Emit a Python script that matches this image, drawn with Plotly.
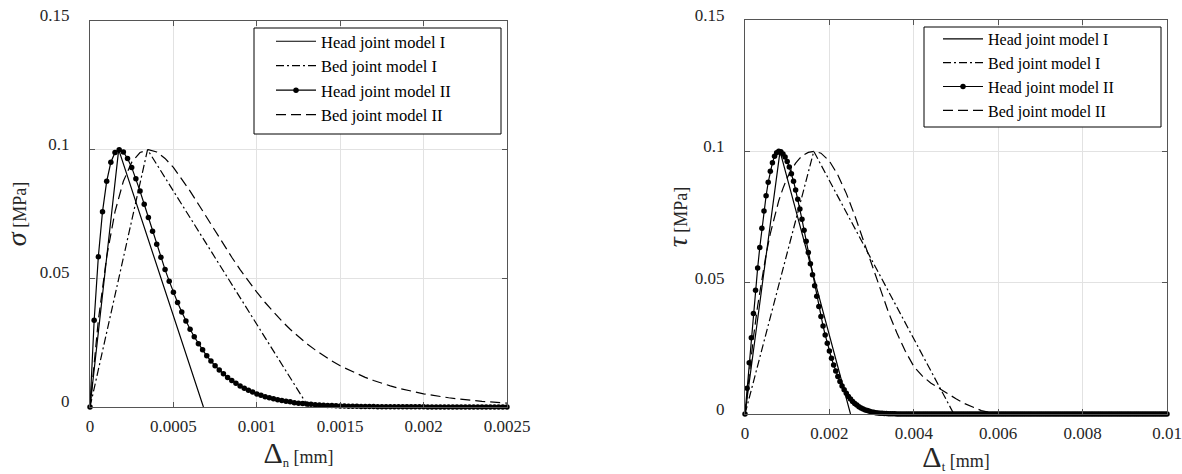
import plotly.graph_objects as go

FONT = "Liberation Serif"
TXT = "#262626"

# ---------------- data: normal direction (left panel) ----------------
# opening in 1e-6 mm
n_head_II_x = [0, 25, 50, 75, 100, 125, 150, 175, 200, 225,
               250, 275, 300, 325, 350, 375, 400, 425, 450, 475,
               500, 525, 550, 575, 600, 625, 650, 675, 700, 725,
               750, 775, 800, 825, 850, 875, 900, 925, 950, 975,
               1000, 1025, 1050, 1075, 1100, 1125, 1150, 1175, 1200, 1225,
               1250, 1275, 1300, 1325, 1350, 1375, 1400, 1425, 1450, 1475,
               1500, 1525, 1550, 1575, 1600, 1625, 1650, 1675, 1700, 1725,
               1750, 1775, 1800, 1825, 1850, 1875, 1900, 1925, 1950, 1975,
               2000, 2025, 2050, 2075, 2100, 2125, 2150, 2175, 2200, 2225,
               2250, 2275, 2300, 2325, 2350, 2375, 2400, 2425, 2450, 2475,
               2500]
n_head_II_y = [0, 0.0337, 0.0584, 0.0759, 0.0877, 0.0951, 0.0989, 0.1, 0.0991, 0.0966,
               0.0931, 0.0887, 0.0839, 0.0788, 0.0736, 0.0683, 0.0632, 0.0582, 0.0534, 0.0489,
               0.0446, 0.0406, 0.0369, 0.0334, 0.0302, 0.0273, 0.0246, 0.0222, 0.0199, 0.0179,
               0.0160, 0.0144, 0.0129, 0.0115, 0.0103, 0.0092, 0.0082, 0.0073, 0.0065, 0.0058,
               0.0051, 0.0046, 0.0040, 0.0036, 0.0032, 0.0028, 0.0025, 0.0022, 0.0020, 0.0017,
               0.0015, 0.0014, 0.0012, 0.0011, 0.0009, 0.0008, 0.0007, 0.0006, 0.0006, 0.0005,
               0.0004, 0.0004, 0.0003, 0.0003, 0.0003, 0.0002, 0.0002, 0.0002, 0.0002, 0.0001,
               0.0001, 0.0001, 0.0001, 0.0001, 0.0001, 0.0001, 0.0001, 0.0001, 0.0001, 0.0001,
               0.0001, 0, 0, 0, 0, 0, 0, 0, 0, 0,
               0, 0, 0, 0, 0, 0, 0, 0, 0, 0,
               0]
n_head_I_x = [0, 172, 680]
n_head_I_y = [0, 0.1, 0]
n_bed_I_x = [0, 345, 1310]
n_bed_I_y = [0, 0.1, 0]
n_bed_II_x = [0, 50, 100, 150, 200, 250, 300, 350, 400, 450,
              500, 550, 600, 650, 700, 750, 800, 850, 900, 950,
              1000, 1050, 1100, 1150, 1200, 1250, 1300, 1350, 1400, 1450,
              1500, 1550, 1600, 1650, 1700, 1750, 1800, 1850, 1900, 1950,
              2000, 2050, 2100, 2150, 2200, 2250, 2300, 2350, 2400, 2450,
              2500]
n_bed_II_y = [0, 0.0337, 0.0584, 0.0759, 0.0877, 0.0951, 0.0989, 0.1, 0.0991, 0.0966,
              0.0931, 0.0887, 0.0839, 0.0788, 0.0736, 0.0683, 0.0632, 0.0582, 0.0534, 0.0489,
              0.0446, 0.0406, 0.0369, 0.0334, 0.0302, 0.0273, 0.0246, 0.0222, 0.0199, 0.0179,
              0.0160, 0.0144, 0.0129, 0.0115, 0.0103, 0.0092, 0.0082, 0.0073, 0.0065, 0.0058,
              0.0051, 0.0046, 0.0040, 0.0036, 0.0032, 0.0028, 0.0025, 0.0022, 0.0020, 0.0017,
              0.0015]

# ---------------- data: tangential direction (right panel) ----------------
t_head_II_x = [0, 50, 100, 150, 200, 250, 300, 350, 400, 450,
               500, 550, 600, 650, 700, 750, 800, 850, 900, 950,
               1000, 1050, 1100, 1150, 1200, 1250, 1300, 1350, 1400, 1450,
               1500, 1550, 1600, 1650, 1700, 1750, 1800, 1850, 1900, 1950,
               2000, 2050, 2100, 2150, 2200, 2250, 2300, 2350, 2400, 2450,
               2500, 2550, 2600, 2650, 2700, 2750, 2800, 2850, 2900, 2950,
               3000, 3050, 3100, 3150, 3200, 3250, 3300, 3350, 3400, 3450,
               3500, 3550, 3600, 3650, 3700, 3750, 3800, 3850, 3900, 3950,
               4000, 4050, 4100, 4150, 4200, 4250, 4300, 4350, 4400, 4450,
               4500, 4550, 4600, 4650, 4700, 4750, 4800, 4850, 4900, 4950,
               5000, 5050, 5100, 5150, 5200, 5250, 5300, 5350, 5400, 5450,
               5500, 5550, 5600, 5650, 5700, 5750, 5800, 5850, 5900, 5950,
               6000, 6050, 6100, 6150, 6200, 6250, 6300, 6350, 6400, 6450,
               6500, 6550, 6600, 6650, 6700, 6750, 6800, 6850, 6900, 6950,
               7000, 7050, 7100, 7150, 7200, 7250, 7300, 7350, 7400, 7450,
               7500, 7550, 7600, 7650, 7700, 7750, 7800, 7850, 7900, 7950,
               8000, 8050, 8100, 8150, 8200, 8250, 8300, 8350, 8400, 8450,
               8500, 8550, 8600, 8650, 8700, 8750, 8800, 8850, 8900, 8950,
               9000, 9050, 9100, 9150, 9200, 9250, 9300, 9350, 9400, 9450,
               9500, 9550, 9600, 9650, 9700, 9750, 9800, 9850, 9900, 9950,
               10000]
t_head_II_y = [0, 0.0098, 0.0195, 0.0290, 0.0383, 0.0471, 0.0556, 0.0634, 0.0707, 0.0773,
               0.0831, 0.0882, 0.0924, 0.0957, 0.0981, 0.0995, 0.1, 0.0998, 0.0990, 0.0978,
               0.0961, 0.0940, 0.0915, 0.0886, 0.0853, 0.0818, 0.0780, 0.0741, 0.0700, 0.0658,
               0.0615, 0.0572, 0.0530, 0.0488, 0.0448, 0.0409, 0.0371, 0.0335, 0.0301, 0.0269,
               0.0240, 0.0212, 0.0187, 0.0164, 0.0143, 0.0124, 0.0107, 0.0092, 0.0079, 0.0067,
               0.0057, 0.0048, 0.0040, 0.0034, 0.0028, 0.0023, 0.0019, 0.0015, 0.0013, 0.0010,
               0.0008, 0.0007, 0.0005, 0.0004, 0.0003, 0.0003, 0.0002, 0.0002, 0.0001, 0.0001,
               0.0001, 0.0001, 0, 0, 0, 0, 0, 0, 0, 0,
               0, 0, 0, 0, 0, 0, 0, 0, 0, 0,
               0, 0, 0, 0, 0, 0, 0, 0, 0, 0,
               0, 0, 0, 0, 0, 0, 0, 0, 0, 0,
               0, 0, 0, 0, 0, 0, 0, 0, 0, 0,
               0, 0, 0, 0, 0, 0, 0, 0, 0, 0,
               0, 0, 0, 0, 0, 0, 0, 0, 0, 0,
               0, 0, 0, 0, 0, 0, 0, 0, 0, 0,
               0, 0, 0, 0, 0, 0, 0, 0, 0, 0,
               0, 0, 0, 0, 0, 0, 0, 0, 0, 0,
               0, 0, 0, 0, 0, 0, 0, 0, 0, 0,
               0, 0, 0, 0, 0, 0, 0, 0, 0, 0,
               0, 0, 0, 0, 0, 0, 0, 0, 0, 0,
               0]
t_head_I_x = [0, 830, 2500]
t_head_I_y = [0, 0.1, 0]
t_bed_I_x = [0, 1630, 4950]
t_bed_I_y = [0, 0.1, 0]
t_bed_II_x = [0, 100, 200, 300, 400, 500, 600, 700, 800, 900,
              1000, 1100, 1200, 1300, 1400, 1500, 1600, 1650, 1800, 2000,
              2200, 2400, 2600, 2800, 3000, 3200, 3400, 3600, 3800, 4000,
              4200, 4400, 4600, 4800, 5000, 5200, 5400, 5600, 5800, 6000,
              6200, 8000, 10000]
t_bed_II_y = [0, 0.0155, 0.0292, 0.0412, 0.0517, 0.0608, 0.0687, 0.0754, 0.0812, 0.0859,
              0.0899, 0.0930, 0.0955, 0.0974, 0.0987, 0.0996, 0.0999, 0.1, 0.0993, 0.0963,
              0.0910, 0.0840, 0.0756, 0.0664, 0.0568, 0.0475, 0.0387, 0.0308, 0.0239, 0.0181,
              0.0145, 0.0118, 0.0097, 0.0078, 0.0058, 0.0040, 0.0025, 0.0013, 0.0006, 0.0002,
              0, 0, 0]

legend_names = ["Head joint model I", "Bed joint model I",
                "Head joint model II", "Bed joint model II"]

SCALE = 1e-6  # data above stored in 1e-6 mm


def mm(v):
    return [a * SCALE for a in v]


fig = go.Figure()


def add_set(xa, ya, leg, series):
    for name, x, y, dash, mark in series:
        fig.add_trace(go.Scatter(
            x=mm(x), y=y, name=name, xaxis=xa, yaxis=ya, legend=leg,
            legendgroup=leg + name,
            mode="lines+markers" if mark else "lines",
            line=dict(color="black", width=1.2, dash=dash),
            marker=dict(color="black", size=5.5) if mark else None,
            cliponaxis=False,
        ))


DASHDOT = "8px,3px,2px,3px"
DASH = "10px,5px"

add_set("x", "y", "legend", [
    (legend_names[0], n_head_I_x, n_head_I_y, "solid", False),
    (legend_names[1], n_bed_I_x, n_bed_I_y, DASHDOT, False),
    (legend_names[2], n_head_II_x, n_head_II_y, "solid", True),
    (legend_names[3], n_bed_II_x, n_bed_II_y, DASH, False),
])
add_set("x2", "y2", "legend2", [
    (legend_names[0], t_head_I_x, t_head_I_y, "solid", False),
    (legend_names[1], t_bed_I_x, t_bed_I_y, DASHDOT, False),
    (legend_names[2], t_head_II_x, t_head_II_y, "solid", True),
    (legend_names[3], t_bed_II_x, t_bed_II_y, DASH, False),
])

W, H = 1182, 474


def px_x(p):
    return p / W


def px_y(p):
    return 1 - p / H


axis_common = dict(
    showline=True, linecolor="#555555", linewidth=1, mirror="allticks",
    ticks="inside", ticklen=5, tickcolor="#555555",
    showgrid=True, gridcolor="#e2e2e2", gridwidth=1, zeroline=False,
    automargin=False,
    tickfont=dict(family=FONT, size=17, color=TXT),
)

y_ticks = [0, 0.05, 0.1, 0.15]
y_text = ["0", "0.05", "0.1", "0.15"]
xn_ticks = [0, 0.0005, 0.001, 0.0015, 0.002, 0.0025]
xn_text = ["0", "0.0005", "0.001", "0.0015", "0.002", "0.0025"]
xt_ticks = [0, 0.002, 0.004, 0.006, 0.008, 0.01]
xt_text = ["0", "0.002", "0.004", "0.006", "0.008", "0.01"]

title_font = dict(family=FONT, size=18, color=TXT)

fig.update_layout(
    width=W, height=H, autosize=False,
    margin=dict(l=0, r=0, t=0, b=0, autoexpand=False),
    paper_bgcolor="white", plot_bgcolor="white",
    font=dict(family=FONT, color=TXT),
    xaxis=dict(axis_common, domain=[px_x(90), px_x(507)], range=[0, 0.0025],
               tickvals=xn_ticks, ticktext=xn_text, anchor="y",
               ticklabelstandoff=4,
               title=dict(text='<span style="font-size:30px">Δ</span><sub>n</sub> [mm]',
                          font=title_font, standoff=8)),
    yaxis=dict(axis_common, domain=[px_y(407), px_y(21)], range=[0, 0.15],
               tickvals=y_ticks, ticktext=y_text, anchor="x",
               ticklabelstandoff=16, ticklabelshift=-6,
               title=dict(text='<span style="font-size:28px"><i>σ</i></span> [MPa]',
                          font=title_font, standoff=8)),
    xaxis2=dict(axis_common, domain=[px_x(745), px_x(1167)], range=[0, 0.01],
                tickvals=xt_ticks, ticktext=xt_text, anchor="y2",
                ticklabelstandoff=4,
                title=dict(text='<span style="font-size:30px">Δ</span><sub>t</sub> [mm]',
                           font=title_font, standoff=8)),
    yaxis2=dict(axis_common, domain=[px_y(414), px_y(20)], range=[0, 0.15],
                tickvals=y_ticks, ticktext=y_text, anchor="x2",
                ticklabelstandoff=16, ticklabelshift=-5,
                title=dict(text='<span style="font-size:28px"><i>τ</i></span> [MPa]',
                           font=title_font, standoff=2)),
    legend=dict(x=px_x(271), y=px_y(24), xanchor="left", yanchor="top",
                bgcolor="rgba(0,0,0,0)", borderwidth=0,
                font=dict(family=FONT, size=16.5, color="black"),
                tracegroupgap=0, itemwidth=40),
    legend2=dict(x=px_x(938), y=px_y(22), xanchor="left", yanchor="top",
                 bgcolor="rgba(0,0,0,0)", borderwidth=0,
                 font=dict(family=FONT, size=16, color="black"),
                 tracegroupgap=0, itemwidth=40),
    shapes=[
        dict(type="rect", xref="paper", yref="paper", layer="above",
             x0=px_x(254), x1=px_x(501), y0=px_y(134), y1=px_y(28),
             line=dict(color="black", width=1), fillcolor="white"),
        dict(type="rect", xref="paper", yref="paper", layer="above",
             x0=px_x(924), x1=px_x(1161), y0=px_y(127), y1=px_y(27),
             line=dict(color="black", width=1), fillcolor="white"),
    ],
)

fig.write_html("out.html")
